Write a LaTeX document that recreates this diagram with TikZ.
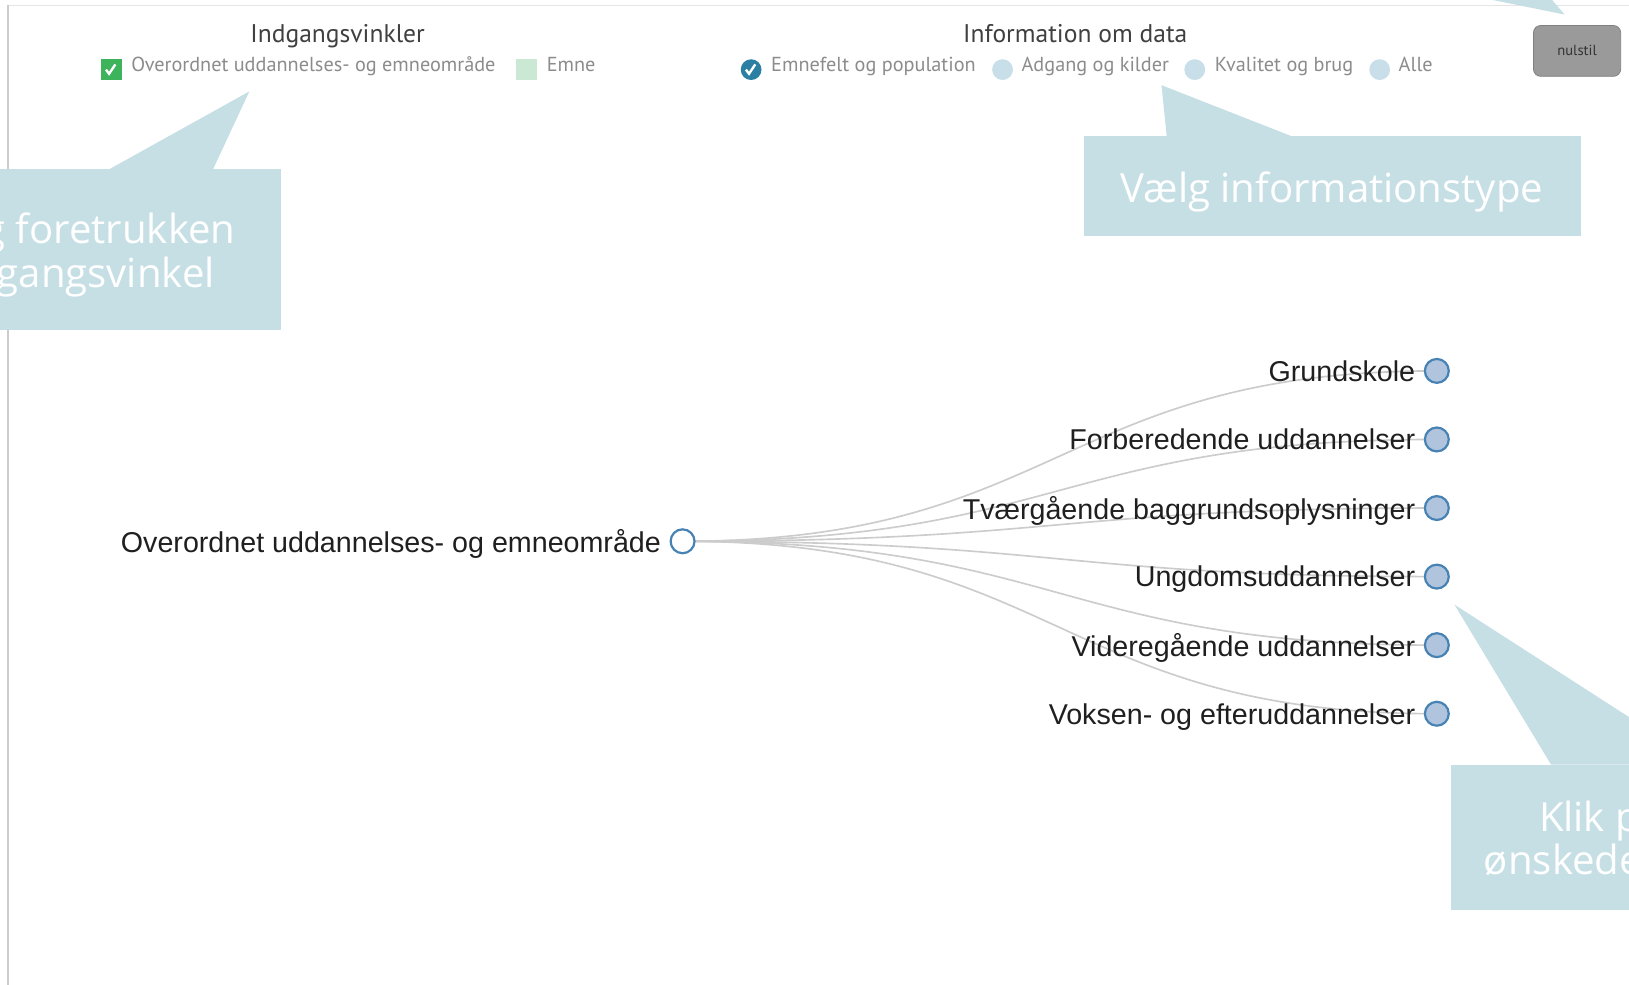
\documentclass[tikz,border=0pt]{standalone}
\usepackage{fontspec}
\setmainfont{Liberation Sans}
\newfontfamily\headfont{PT Sans}
\newfontfamily\calloutfont{Open Sans}
\usetikzlibrary{positioning,backgrounds}

\definecolor{calloutblue}{HTML}{C5DFE5}
\definecolor{linkgray}{HTML}{CCCCCC}
\definecolor{nodefill}{HTML}{B0C4DE}
\definecolor{nodeline}{HTML}{4682B4}
\definecolor{chkgreen}{HTML}{3DB35B}
\definecolor{chklight}{HTML}{CBE8D4}
\definecolor{radioblue}{HTML}{2B7FA3}
\definecolor{radiolight}{HTML}{C8DEE8}
\definecolor{btngray}{HTML}{9A9A9A}

\tikzset{
  head/.style={font=\headfont\fontsize{14}{16}\selectfont, text=black!75, inner sep=0pt, anchor=base},
  legend/.style={font=\headfont\fontsize{11.1}{13}\selectfont, text=black!45, inner sep=0pt, anchor=base west},
  chkbox/.style={minimum size=0.4cm, inner sep=0pt},
  radio/.style={circle, minimum size=0.4cm, inner sep=0pt},
  tick/.style={draw=white, line width=1.3pt},
  resetbtn/.style={draw=black!50, fill=btngray, rounded corners=4pt, minimum width=1.68cm,
    minimum height=0.98cm, font=\headfont\fontsize{8}{10}\selectfont, text=black!80},
  treenode/.style={circle, draw=nodeline, line width=1.2pt, fill=nodefill, minimum size=0.46cm, inner sep=0pt},
  treelabel/.style={font=\fontsize{15.7}{18}\selectfont, text=black!88, inner sep=0pt, text depth=0pt},
  link/.style={draw=linkgray, line width=0.9pt},
  callout/.style={fill=calloutblue},
  callouttext/.style={font=\calloutfont\fontsize{22}{26}\selectfont, text=white, inner sep=0pt}
}

\begin{document}
\begin{tikzpicture}[x=0.02cm, y=-0.02cm]
  \useasboundingbox (0,0) rectangle (1568,948);
  \clip (0,0) rectangle (1568,948);
  % frame
  \draw[black!10] (8,5) -- (1568,5);
  \draw[black!20, line width=1pt] (8,5) -- (8,948);

  % headings and legend
  \node[head] (hvinkel) at (325,41) {Indgangsvinkler};
  \node[head] (hinfo) at (1035,41) {Information om data};

  \node[chkbox, fill=chkgreen] (boxover) at (107,67) {};
  \draw[tick] ([shift={(-5,0)}]boxover.center) -- ++(3,4) -- ++(6,-9);
  \node[legend] (lover) at (126,69) {Overordnet uddannelses- og emneområde};
  \node[chkbox, fill=chklight] (boxemne) at (507,67) {};
  \node[legend] (lemne) at (526,69) {Emne};

  \node[radio, fill=radioblue] (rademne) at (723,67) {};
  \draw[tick] ([shift={(-5,0)}]rademne.center) -- ++(3,4) -- ++(6,-9);
  \node[legend] (lpop) at (742,69) {Emnefelt og population};
  \node[radio, fill=radiolight] (radadg) at (965,67) {};
  \node[legend] (ladg) at (983,69) {Adgang og kilder};
  \node[radio, fill=radiolight] (radkval) at (1150,67) {};
  \node[legend] (lkval) at (1169,69) {Kvalitet og brug};
  \node[radio, fill=radiolight] (radalle) at (1328,67) {};
  \node[legend] (lalle) at (1346,69) {Alle};

  \node[resetbtn] (nulstil) at (1518,49) {nulstil};

  % callouts
  \fill[callout] (1437,0) -- (1506,14) -- (1494,0) -- cycle;

  \fill[callout] (0,163) rectangle (270,318);
  \fill[callout] (105,163) -- (240,88) -- (205,163) -- cycle;
  \node[callouttext, anchor=base east] (cvinkel1) at (227,234) {Vælg foretrukken};
  \node[callouttext, anchor=base east] (cvinkel2) at (207,277) {indgangsvinkel};

  \fill[callout] (1043,131) rectangle (1522,227);
  \fill[callout] (1123,131) -- (1118,82) -- (1243,131) -- cycle;
  \node[callouttext, anchor=base] (cinfo) at (1282,195) {Vælg informationstype};

  \fill[callout] (1397,736) rectangle (1600,876);
  \fill[callout] (1493,736) -- (1400,582) -- (1639,736) -- cycle;
  \node[callouttext, anchor=base west] (cklik1) at (1481,800) {Klik på};
  \node[callouttext, anchor=base west] (cklik2) at (1428,842) {ønskede};

  % tree
  \node[treenode, fill=white] (root) at (657,521) {};
  \node[treelabel, left=4.5pt of root] (rootlbl) {Overordnet uddannelses- og emneområde};
  \foreach \leaf/\txt [count=\i from 0] in {grund/Grundskole, forb/Forberedende uddannelser,
      tvaer/Tværgående baggrundsoplysninger, ungdom/Ungdomsuddannelser,
      videre/Videregående uddannelser, voksen/Voksen- og efteruddannelser} {
    \node[treenode] (\leaf) at (1383,{357+66*\i}) {};
    \node[treelabel, left=4.5pt of \leaf] (\leaf lbl) {\txt};
  }
  \begin{scope}[on background layer]
    \fill[white] (0,0) rectangle (1568,948);
    \foreach \leaf in {grund,forb,tvaer,ungdom,videre,voksen}
      \draw[link] (root.center) .. controls +(363,0) and +(-363,0) .. (\leaf.center);
  \end{scope}
\end{tikzpicture}
\end{document}
